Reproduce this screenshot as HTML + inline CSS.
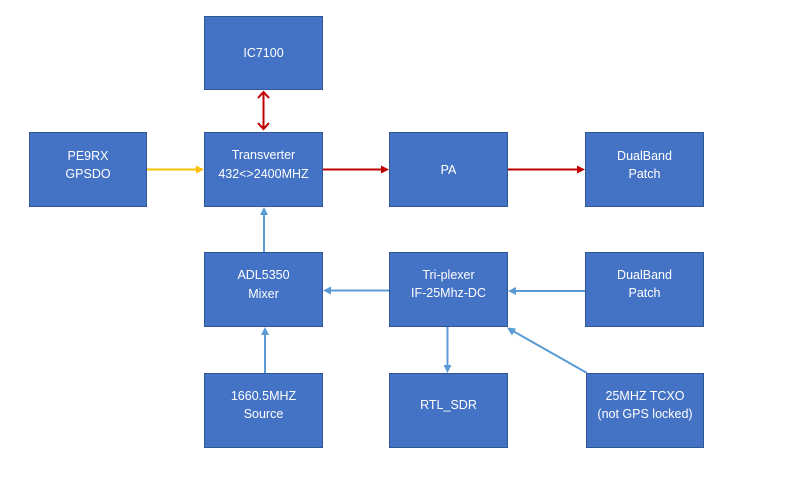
<!DOCTYPE html>
<html><head><meta charset="utf-8"><style>
html,body{margin:0;padding:0;background:#fff;}
svg{display:block;}
text{font-family:"Liberation Sans",sans-serif;font-size:12.5px;fill:#fff;text-anchor:middle;}
</style></head><body>
<svg width="799" height="491" viewBox="0 0 799 491" xmlns="http://www.w3.org/2000/svg">
<g fill="#4472C4" stroke="#2F5597" stroke-width="1">
<rect x="204.5" y="16.5" width="118" height="73"/>
<rect x="29.5" y="132.5" width="117" height="74"/>
<rect x="204.5" y="132.5" width="118" height="74"/>
<rect x="389.5" y="132.5" width="118" height="74"/>
<rect x="585.5" y="132.5" width="118" height="74"/>
<rect x="204.5" y="252.5" width="118" height="74"/>
<rect x="389.5" y="252.5" width="118" height="74"/>
<rect x="585.5" y="252.5" width="118" height="74"/>
<rect x="204.5" y="373.5" width="118" height="74"/>
<rect x="389.5" y="373.5" width="118" height="74"/>
<rect x="586.5" y="373.5" width="117" height="74"/>
</g>
<!-- red arrows -->
<g stroke="#C00000" stroke-width="2" fill="none">
<line x1="263.5" y1="92" x2="263.5" y2="129"/>
<polyline points="258,98 263.5,92 269,98"/>
<polyline points="258,123 263.5,129 269,123"/>
<line x1="323" y1="169.5" x2="382" y2="169.5"/>
<line x1="508" y1="169.5" x2="578" y2="169.5"/>
</g>
<g fill="#C00000">
<polygon points="389,169.5 381,165.5 381,173.5"/>
<polygon points="585,169.5 577,165.5 577,173.5"/>
</g>
<!-- yellow -->
<line x1="147" y1="169.5" x2="197" y2="169.5" stroke="#FFC000" stroke-width="2"/>
<polygon points="204,169.5 196,165.5 196,173.5" fill="#FFC000"/>
<!-- blue -->
<g stroke="#5B9BD5" stroke-width="2" fill="none">
<line x1="264" y1="252" x2="264" y2="214"/>
<line x1="265" y1="373" x2="265" y2="334"/>
<line x1="389" y1="290.5" x2="330" y2="290.5"/>
<line x1="585" y1="291" x2="515" y2="291"/>
<line x1="447.5" y1="327" x2="447.5" y2="366"/>
<line x1="587" y1="373" x2="513" y2="331"/>
</g>
<g fill="#5B9BD5">
<polygon points="264,207 260,215 268,215"/>
<polygon points="265,327 261,335 269,335"/>
<polygon points="323,290.5 331,286.5 331,294.5"/>
<polygon points="508,291 516,287 516,295"/>
<polygon points="447.5,373 443.5,365 451.5,365"/>
<polygon points="507,327.5 516,328.5 512,335.5"/>
</g>
<text x="263.5" y="57">IC7100</text>
<text x="88" y="160">PE9RX</text>
<text x="88" y="178">GPSDO</text>
<text x="263.5" y="159">Transverter</text>
<text x="263.5" y="178">432&lt;&gt;2400MHZ</text>
<text x="448.5" y="174">PA</text>
<text x="644.5" y="160">DualBand</text>
<text x="644.5" y="178">Patch</text>
<text x="263.5" y="279">ADL5350</text>
<text x="263.5" y="298">Mixer</text>
<text x="448.5" y="279">Tri-plexer</text>
<text x="448.5" y="297">IF-25Mhz-DC</text>
<text x="644.5" y="279">DualBand</text>
<text x="644.5" y="297">Patch</text>
<text x="263.5" y="400">1660.5MHZ</text>
<text x="263.5" y="418">Source</text>
<text x="448.5" y="409">RTL_SDR</text>
<text x="645" y="400">25MHZ TCXO</text>
<text x="645" y="418">(not GPS locked)</text>
</svg>
</body></html>
